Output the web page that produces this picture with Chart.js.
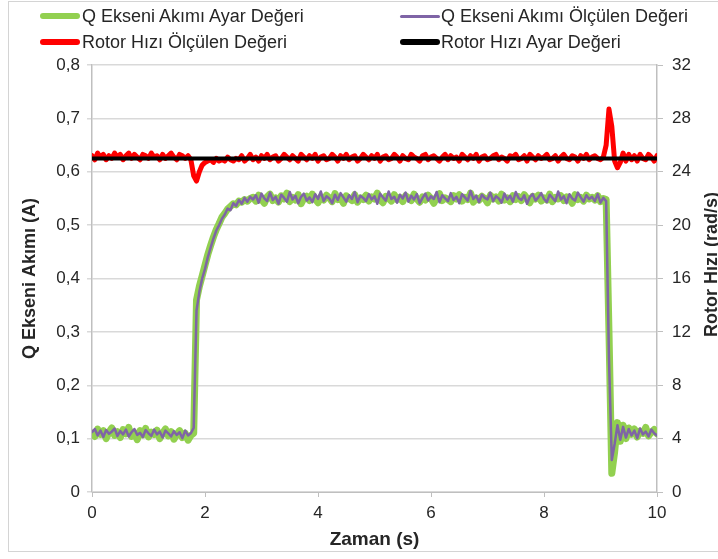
<!DOCTYPE html>
<html>
<head>
<meta charset="utf-8">
<script src="https://cdn.jsdelivr.net/npm/chart.js@4.4.1/dist/chart.umd.min.js"></script>
<style>
  html, body { margin:0; padding:0; background:#fff; overflow:hidden; }
  #wrap { position:relative; width:718px; height:559px; }
  #frame { position:absolute; left:8px; top:1px; width:730px; height:551px; border:1px solid #d4d4d4; box-sizing:border-box; }
  canvas { position:absolute; left:0; top:0; }
  .leg { position:absolute; font-family:"Liberation Sans", Arial, sans-serif; font-size:18px; color:#262626; white-space:nowrap; line-height:18px; }
  .sw { position:absolute; border-radius:3px; }
</style>
</head>
<body>
<div id="wrap">
  <div id="frame"></div>
  <canvas id="c" width="718" height="559"></canvas>
  <div id="legend"></div>
</div>
<script>
// ---- data ----
const SERIES_NAMES = ["Q Ekseni Akımı Ayar Değeri", "Q Ekseni Akımı Ölçülen Değeri", "Rotor Hızı Ölçülen Değeri", "Rotor Hızı Ayar Değeri"];
const X_TITLE = "Zaman (s)";
const Y_TITLE = "Q Ekseni Akımı (A)";
const Y2_TITLE = "Rotor Hızı (rad/s)";

// sampling instants (s), 0.05 s grid
const times = Array.from({length: 201}, (_, i) => +(i * 0.05).toFixed(2));

const qSet = [
  0.110,0.104,0.118,0.108,0.115,0.100,0.112,0.120,0.106,0.113,
  0.102,0.117,0.109,0.121,0.104,0.111,0.098,0.115,0.107,0.119,
  0.103,0.112,0.108,0.116,0.100,0.110,0.118,0.105,0.113,0.099,
  0.108,0.115,0.102,0.110,0.097,0.106,
  0.110,0.360,0.385,0.405,0.425,0.445,0.462,0.478,0.492,0.503,
  0.515,0.522,0.530,0.535,0.540,0.538,0.545,0.543,0.548,0.545,0.550,
  0.552,0.545,0.556,0.548,0.541,0.553,0.558,0.546,0.551,0.543,
  0.555,0.549,0.560,0.544,0.552,0.547,0.557,0.540,0.550,0.554,
  0.546,0.558,0.549,0.542,0.553,0.547,0.556,0.551,0.544,0.559,
  0.548,0.552,0.541,0.555,0.550,0.546,0.557,0.543,0.551,0.548,
  0.556,0.545,0.553,0.549,0.560,0.547,0.542,0.554,0.550,0.545,
  0.557,0.548,0.552,0.544,0.555,0.551,0.546,0.558,0.549,0.543,
  0.553,0.547,0.556,0.550,0.541,0.552,0.559,0.546,0.551,0.548,
  0.544,0.555,0.549,0.557,0.545,0.552,0.548,0.560,0.543,0.551,
  0.547,0.554,0.550,0.542,0.556,0.549,0.553,0.545,0.558,0.547,
  0.551,0.544,0.555,0.548,0.553,0.546,0.557,0.550,0.542,0.554,
  0.549,0.556,0.545,0.551,0.547,0.558,0.544,0.552,0.549,0.555,
  0.546,0.553,0.550,0.541,0.557,0.548,0.552,0.545,0.556,0.549,
  0.552,0.547,0.555,0.544,0.550,
  0.548,0.300,0.035,0.075,0.130,0.095,0.125,0.100,0.120,
  0.108,0.118,0.103,0.114,0.110,0.121,0.105,0.112,0.117,0.109
];

const qMeas = [
  0.112,0.118,0.106,0.115,0.103,0.116,0.109,0.113,0.119,0.105,
  0.114,0.108,0.117,0.104,0.112,0.118,0.107,0.111,0.103,0.116,
  0.110,0.105,0.117,0.108,0.113,0.102,0.115,0.110,0.104,0.114,
  0.107,0.112,0.101,0.115,0.106,0.110,
  0.120,0.340,0.375,0.400,0.418,0.440,0.458,0.475,0.490,0.500,
  0.512,0.520,0.531,0.528,0.541,0.536,0.547,0.540,0.551,0.544,0.553,
  0.548,0.556,0.542,0.559,0.550,0.545,0.561,0.547,0.553,0.540,
  0.557,0.551,0.544,0.562,0.548,0.555,0.541,0.553,0.559,0.546,
  0.552,0.543,0.558,0.549,0.563,0.545,0.554,0.550,0.541,0.557,
  0.547,0.560,0.552,0.544,0.556,0.549,0.562,0.543,0.555,0.551,
  0.545,0.558,0.548,0.554,0.540,0.559,0.552,0.546,0.563,0.549,
  0.553,0.542,0.557,0.550,0.561,0.544,0.555,0.548,0.558,0.541,
  0.551,0.559,0.546,0.554,0.549,0.562,0.543,0.556,0.550,0.545,
  0.560,0.547,0.553,0.541,0.558,0.552,0.546,0.564,0.549,0.555,
  0.543,0.557,0.551,0.548,0.561,0.545,0.554,0.550,0.542,0.559,
  0.548,0.555,0.544,0.562,0.551,0.547,0.556,0.540,0.553,0.558,
  0.546,0.552,0.560,0.549,0.543,0.557,0.551,0.545,0.563,0.548,
  0.554,0.541,0.558,0.550,0.546,0.561,0.552,0.544,0.556,0.549,
  0.553,0.545,0.558,0.542,0.551,
  0.545,0.250,0.060,0.090,0.125,0.098,0.122,0.102,0.118,
  0.106,0.115,0.101,0.119,0.108,0.113,0.104,0.117,0.110,0.106
];

const speedMeas = [
  25.2,24.9,25.4,25.1,25.3,24.9,25.2,25.0,25.4,25.1,
  25.3,24.9,25.2,25.4,25.0,25.3,25.1,24.9,25.3,25.2,
  25.0,25.4,25.1,25.2,24.9,25.3,25.0,25.2,25.4,25.1,
  24.9,25.3,25.2,25.0,25.2,
  24.9,23.7,23.3,24.0,24.5,24.7,
  24.8,24.9,24.7,25.0,24.8,24.9,24.8,25.1,24.9,24.8,
  25.0,24.9,25.2,24.8,25.0,25.3,24.9,25.1,24.8,25.2,
  25.0,25.3,24.9,25.1,25.2,24.8,25.0,25.3,25.1,24.9,
  25.2,25.0,24.8,25.3,25.1,24.9,25.2,25.0,25.3,24.8,
  25.1,25.2,24.9,25.0,25.3,25.1,24.8,25.2,25.0,25.3,
  24.9,25.1,25.2,24.8,25.0,25.3,25.1,24.9,25.2,25.0,
  25.3,24.8,25.1,25.2,24.9,25.0,25.3,25.1,24.8,25.2,
  25.0,24.9,25.3,25.1,25.0,24.8,25.2,25.3,24.9,25.1,
  25.2,25.0,24.8,25.1,25.3,24.9,25.2,25.0,25.1,24.8,
  25.3,25.1,24.9,25.2,25.0,25.3,24.8,25.1,25.2,24.9,
  25.0,25.2,25.3,24.9,25.1,25.0,24.8,25.2,25.1,25.3,
  24.9,25.0,25.2,24.8,25.3,25.1,24.9,25.2,25.0,25.1,
  25.3,24.9,25.0,25.2,24.8,25.1,25.3,25.0,24.9,25.2,
  25.1,24.8,25.2,25.0,25.3,24.9,25.1,25.2,25.0,24.9,
  25.1,
  26.0,28.7,27.4,24.8,24.3,24.7,25.4,24.8,25.3,
  24.9,25.2,24.8,25.3,25.0,24.9,25.3,25.1,24.8,25.2
];

const speedSetTimes = [0, 10];
const speedSet = [25, 25];

const xTicks = [0, 2, 4, 6, 8, 10];

const COLORS = ["#92d050", "#7f64a6", "#ff0000", "#000000"];
const WIDTHS = [7, 2.5, 5, 4];

function pts(xs, ys) { return ys.map((v, i) => ({x: xs[i], y: v})); }

const FONT = '"Liberation Sans", Arial, sans-serif';
const TXT = '#262626';

// legend (HTML)
const legendPos = [[40, 82, 16], [400, 441, 16], [40, 82, 42], [400, 441, 42]];
const legEl = document.getElementById('legend');
SERIES_NAMES.forEach((n, i) => {
  const [lx, tx, cy] = legendPos[i];
  const sw = document.createElement('div');
  sw.className = 'sw';
  const h = i === 1 ? 3 : 6;
  sw.style.cssText = `left:${lx}px;top:${cy - h/2}px;width:40px;height:${h}px;background:${COLORS[i]};`;
  legEl.appendChild(sw);
  const t = document.createElement('div');
  t.className = 'leg';
  t.textContent = n;
  t.style.left = tx + 'px';
  t.style.top = (cy - 9) + 'px';
  legEl.appendChild(t);
});

const rightTitle = {
  id: 'rightTitle',
  afterDraw(chart) {
    const ctx = chart.ctx, a = chart.chartArea;
    ctx.save();
    ctx.translate(712, (a.top + a.bottom) / 2 - 14);
    ctx.rotate(-Math.PI / 2);
    ctx.font = 'bold 18px ' + FONT;
    ctx.fillStyle = TXT;
    ctx.textAlign = 'center';
    ctx.textBaseline = 'middle';
    ctx.fillText(Y2_TITLE, 0, 0);
    ctx.restore();
  }
};

const common = { pointRadius: 0, pointHoverRadius: 0, tension: 0, borderJoinStyle: 'round', borderCapStyle: 'round', fill: false };

new Chart(document.getElementById('c'), {
  type: 'line',
  data: {
    datasets: [
      Object.assign({ label: SERIES_NAMES[3], data: pts(speedSetTimes, speedSet), borderColor: COLORS[3], borderWidth: WIDTHS[3], yAxisID: 'y2' }, common),
      Object.assign({ label: SERIES_NAMES[2], data: pts(times, speedMeas), borderColor: COLORS[2], borderWidth: WIDTHS[2], yAxisID: 'y2' }, common),
      Object.assign({ label: SERIES_NAMES[1], data: pts(times, qMeas), borderColor: COLORS[1], borderWidth: WIDTHS[1], yAxisID: 'y' }, common),
      Object.assign({ label: SERIES_NAMES[0], data: pts(times, qSet), borderColor: COLORS[0], borderWidth: WIDTHS[0], yAxisID: 'y' }, common)
    ]
  },
  options: {
    responsive: false,
    animation: false,
    devicePixelRatio: 1,
    layout: { padding: { top: 65, left: 0, right: 0, bottom: 0 } },
    plugins: { legend: { display: false }, tooltip: { enabled: false } },
    scales: {
      x: {
        type: 'linear', min: 0, max: 10,
        afterBuildTicks(s) { s.ticks = xTicks.map(v => ({value: v})); },
        afterFit(s) { s.height = 67; },
        ticks: { font: { family: FONT, size: 17 }, color: TXT, padding: 6 },
        grid: { drawOnChartArea: false, drawTicks: true, tickLength: 5, color: '#bfbfbf' },
        border: { color: '#bfbfbf', width: 1 },
        title: { display: true, text: X_TITLE, font: { family: FONT, size: 19, weight: 'bold' }, color: TXT, padding: { top: 0, bottom: 8 } }
      },
      y: {
        position: 'left', min: 0, max: 0.8,
        ticks: { stepSize: 0.1, font: { family: FONT, size: 17 }, color: TXT, padding: 7,
          callback: v => { const r = Math.round(v * 10) / 10; return r === 0 ? '0' : r.toFixed(1).replace('.', ','); } },
        afterFit(s) { s.width = 92; },
        grid: { color: '#d9d9d9', tickLength: 5, lineWidth: 1.5 },
        border: { color: '#bfbfbf', width: 1.5 },
        title: { display: true, text: Y_TITLE, font: { family: FONT, size: 18, weight: 'bold' }, color: TXT, padding: { top: 19, bottom: 0 } }
      },
      y2: {
        position: 'right', min: 0, max: 32,
        ticks: { stepSize: 4, font: { family: FONT, size: 17 }, color: TXT, padding: 9 },
        afterFit(s) { s.width = 61; },
        grid: { drawOnChartArea: false, color: '#bfbfbf', tickLength: 6 },
        border: { color: '#bfbfbf', width: 1.5 }
      }
    }
  },
  plugins: [rightTitle]
});
</script>
</body>
</html>
